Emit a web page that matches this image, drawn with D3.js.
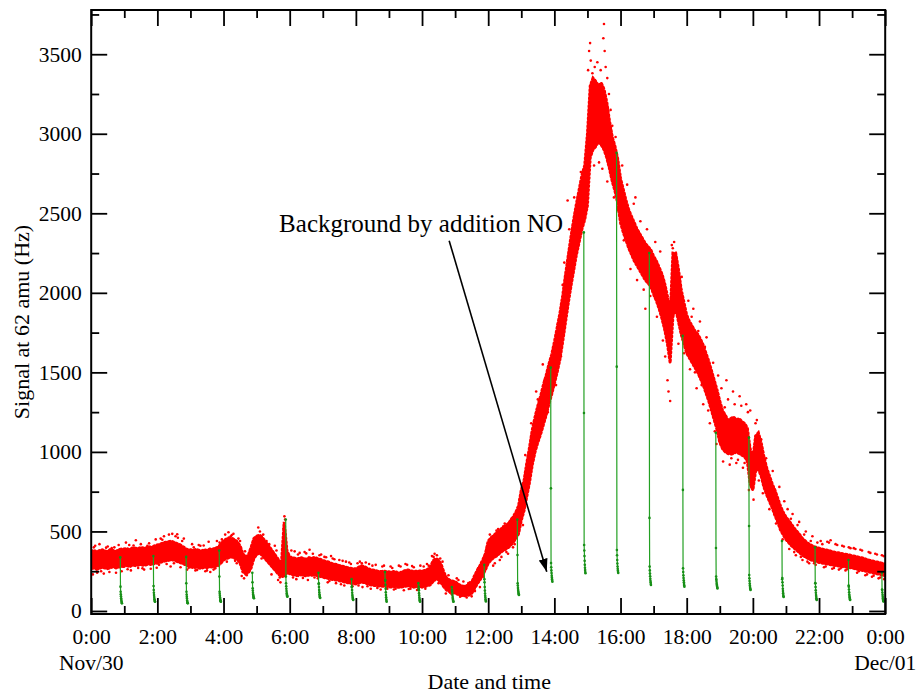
<!DOCTYPE html>
<html>
<head>
<meta charset="utf-8">
<script src="https://cdn.jsdelivr.net/npm/d3@7/dist/d3.min.js"></script>
<style>
  body { margin: 0; background: #fff; }
  svg text { font-family: "Liberation Serif", "Times New Roman", serif; fill: #000; }
</style>
</head>
<body>
<div id="chart"></div>
<script>
// signal at 62 amu, Nov/30 0:00 -> Dec/01 0:00, time in hours
// dense part of the red cloud, one low/high pair every 5 minutes
const bandStepMin = 5;
const bandLow = [
  265, 270, 262, 268, 275, 270, 266, 272, 278, 270, 275, 280,
  280, 285, 278, 290, 285, 288, 292, 286, 290, 295, 290, 300,
  300, 305, 310, 315, 318, 322, 320, 312, 305, 300, 292, 285,
  278, 272, 275, 270, 268, 275, 272, 278, 275, 280, 285, 300,
  320, 330, 335, 340, 332, 325, 300, 250, 232, 240, 270, 330,
  355, 365, 350, 330, 310, 290, 270, 250, 230, 215, 220, 240,
  235, 228, 225, 222, 228, 225, 220, 226, 224, 228, 222, 218,
  212, 208, 205, 200, 196, 194, 190, 186, 182, 178, 175, 172,
  170, 176, 182, 178, 172, 165, 162, 160, 158, 156, 155, 154,
  152, 150, 155, 150, 148, 152, 156, 158, 154, 150, 152, 155,
  150, 154, 158, 165, 185, 200, 195, 175, 150, 130, 122, 118,
  112, 105, 98, 95, 96, 100, 110, 140, 170, 195, 225, 260,
  300, 320, 335, 345, 360, 375, 385, 395, 410, 430, 455, 485,
  570, 630, 720, 810, 920, 1000, 1060, 1110, 1170, 1230, 1300, 1360,
  1430, 1500, 1580, 1690, 1810, 1930, 2040, 2140, 2240, 2320, 2400, 2460,
  2550, 2850, 2900, 2920, 2950, 2930, 2900, 2850, 2780, 2700, 2640, 2560,
  2440, 2380, 2330, 2280, 2240, 2200, 2170, 2140, 2110, 2080, 2060, 2040,
  1990, 1950, 1900, 1840, 1770, 1680, 1560, 1850, 1900, 1820, 1740, 1680,
  1620, 1590, 1560, 1530, 1500, 1460, 1420, 1370, 1320, 1260, 1200, 1140,
  1060, 1020, 1000, 990, 985, 990, 1000, 990, 980, 970, 940, 800,
  760, 880, 890, 850, 780, 730, 690, 650, 600, 560, 510, 480,
  450, 430, 410, 395, 380, 365, 350, 340, 330, 322, 315, 310,
  305, 302, 298, 295, 292, 288, 285, 283, 280, 278, 276, 274,
  270, 266, 262, 258, 254, 250, 246, 242, 238, 234, 230, 226,
  220
];
const bandHigh = [
  375, 382, 370, 380, 385, 378, 372, 388, 380, 375, 385, 390,
  390, 392, 385, 398, 395, 392, 400, 396, 398, 405, 398, 410,
  415, 420, 428, 432, 435, 440, 432, 425, 418, 408, 395, 385,
  385, 380, 388, 382, 378, 385, 380, 390, 388, 395, 400, 420,
  440, 452, 460, 458, 448, 435, 410, 360, 340, 350, 400, 455,
  470, 478, 465, 440, 418, 395, 370, 345, 320, 300, 560, 380,
  340, 335, 332, 328, 336, 330, 326, 335, 330, 338, 330, 325,
  318, 312, 308, 300, 296, 292, 286, 282, 278, 272, 268, 266,
  265, 275, 285, 280, 270, 262, 258, 255, 250, 248, 250, 248,
  246, 244, 250, 242, 240, 248, 255, 258, 252, 248, 250, 252,
  250, 255, 262, 275, 315, 330, 320, 290, 240, 205, 195, 188,
  185, 170, 160, 155, 158, 165, 180, 220, 255, 285, 320, 360,
  440, 460, 475, 490, 505, 520, 535, 545, 565, 590, 620, 660,
  760, 820, 930, 1030, 1140, 1220, 1290, 1350, 1420, 1480, 1550, 1610,
  1690, 1780, 1870, 1980, 2110, 2230, 2350, 2460, 2560, 2650, 2740, 2800,
  3000, 3300, 3350, 3330, 3300, 3320, 3280, 3200, 3080, 2980, 2920, 2840,
  2720, 2650, 2580, 2520, 2480, 2440, 2400, 2370, 2340, 2310, 2290, 2270,
  2230, 2200, 2160, 2120, 2060, 1980, 1850, 2250, 2250, 2150, 2020, 1940,
  1860, 1820, 1790, 1760, 1740, 1710, 1670, 1620, 1570, 1510, 1450, 1390,
  1320, 1260, 1230, 1200, 1210, 1220, 1200, 1210, 1190, 1180, 1150, 1020,
  960, 1100, 1120, 1060, 970, 900, 850, 800, 760, 710, 660, 620,
  590, 570, 545, 520, 500, 480, 455, 440, 425, 415, 405, 400,
  395, 390, 385, 382, 378, 372, 368, 366, 362, 358, 355, 352,
  348, 344, 340, 336, 332, 326, 320, 316, 312, 308, 304, 300,
  295
];

// scattered single readings outside the dense part [hour, Hz]
const outliers = [
  [0.05,230],[0.12,410],[0.25,420],[0.38,235],[0.5,405],[0.62,395],[0.75,240],[0.83,415],[0.3,250],[0.7,400],
  [0.08,400],[0.18,240],[0.45,398],[0.55,245],[0.92,250],
  [1.05,430],[1.2,255],[1.35,445],[1.5,420],[1.6,260],[1.7,410],[1.8,265],[1.95,450],[1.42,270],[1.15,415],
  [1.1,262],[1.28,412],[1.55,268],[1.75,425],[1.98,272],
  [2.1,455],[2.2,470],[2.35,480],[2.45,485],[2.55,470],[2.4,280],[2.7,275],[2.8,455],[2.62,460],[2.9,260],
  [2.05,290],[2.15,448],[2.28,295],[2.5,300],[2.6,482],[2.75,440],[2.95,272],
  [3.05,420],[3.15,255],[3.3,410],[3.45,250],[3.55,435],[3.7,260],[3.8,440],[3.6,245],[3.25,415],[3.95,450],
  [3.1,400],[3.2,258],[3.4,412],[3.5,255],[3.75,268],[3.88,430],
  [4.05,480],[4.15,495],[4.22,470],[4.3,485],[4.4,300],[4.55,220],[4.62,205],[4.5,440],[4.7,225],[4.8,380],
  [4.1,310],[4.25,478],[4.35,315],[4.45,455],[4.58,245],[4.65,375],[4.9,440],
  [5.05,525],[5.1,500],[5.15,330],[5.3,440],[5.45,230],[5.55,410],[5.65,195],[5.72,180],[5.78,360],[5.84,595],[5.86,575],[5.82,520],
  [5.2,480],[5.25,345],[5.38,420],[5.5,270],[5.6,380],[5.7,210],
  [6.05,380],[6.2,200],[6.3,365],[6.45,370],[6.55,195],[6.7,360],[6.85,205],[6.95,355],[6.15,375],[6.6,385],
  [6.1,210],[6.25,355],[6.4,208],[6.5,362],[6.75,210],[6.9,350],
  [7.05,340],[7.15,180],[7.3,330],[7.4,175],[7.5,320],[7.65,160],[7.8,305],[7.9,155],[7.25,345],[7.7,310],
  [7.1,338],[7.2,188],[7.35,325],[7.55,168],[7.6,315],[7.85,295],
  [8.05,300],[8.12,310],[8.2,150],[8.3,305],[8.45,140],[8.6,290],[8.75,135],[8.85,285],[8.95,140],[8.4,295],
  [8.08,160],[8.18,300],[8.35,155],[8.5,285],[8.65,145],[8.8,280],
  [9.05,280],[9.15,135],[9.3,285],[9.45,130],[9.55,290],[9.65,140],[9.75,275],[9.85,132],[9.95,285],[9.5,295],
  [9.1,270],[9.2,140],[9.35,280],[9.6,138],[9.7,282],[9.9,140],
  [10.05,280],[10.15,295],[10.3,345],[10.38,360],[10.45,350],[10.5,175],[10.62,310],[10.72,110],[10.8,225],[10.9,105],
  [10.1,140],[10.2,285],[10.25,180],[10.35,340],[10.55,330],[10.65,170],[10.85,115],
  [11.05,205],[11.15,90],[11.25,185],[11.35,85],[11.45,180],[11.6,125],[11.7,270],[11.8,300],[11.88,340],[11.95,390],
  [11.1,195],[11.2,95],[11.4,175],[11.5,92],[11.65,240],[11.75,150],[11.85,215],
  [12.05,480],[12.15,285],[12.25,505],[12.35,320],[12.5,550],[12.6,360],[12.7,580],[12.8,420],[12.9,650],[12.95,700],
  [12.1,460],[12.2,300],[12.3,515],[12.4,340],[12.45,530],[12.55,370],[12.65,560],[12.75,400],[12.85,620],
  [13.05,540],[13.12,980],[13.22,850],[13.3,1180],[13.4,1040],[13.5,1330],[13.6,1150],[13.7,1450],[13.8,1250],[13.9,1560],[13.65,1550],[13.45,1380],
  [14.05,1420],[14.1,1800],[14.2,1600],[14.3,2190],[14.38,1880],[14.45,2400],[14.55,2160],[14.6,2600],[14.7,2300],[14.8,2760],[14.85,2420],[14.95,2820],[14.4,2580],[14.25,2050],
  [15.02,3400],[15.05,3520],[15.08,3570],[15.1,3460],[15.15,3380],[15.22,3420],[15.3,3450],[15.4,3400],[15.48,3600],[15.5,3690],[15.52,3520],[15.55,3420],[15.6,3350],
  [15.65,3250],[15.7,3150],[15.75,3050],[15.85,2980],[15.2,2800],[15.35,2820],[15.45,2780],[15.6,2700],[15.8,2600],[15.9,2520],[15.12,3250],[15.28,3200],[15.42,3180],
  [16.05,2800],[16.1,2330],[16.2,2680],[16.3,2150],[16.4,2560],[16.5,2080],[16.6,2450],[16.7,2020],[16.8,2400],[16.9,1980],[16.45,2600],[16.75,1900],
  [17.05,2320],[17.1,1850],[17.2,2260],[17.28,1700],[17.35,1600],[17.42,1450],[17.45,1380],[17.5,1320],[17.55,2300],[17.58,2280],[17.62,2320],[17.68,2200],[17.75,1680],[17.85,2100],[17.92,1620],
  [18.05,1950],[18.1,1520],[18.2,1900],[18.3,1400],[18.4,1820],[18.5,1300],[18.6,1720],[18.7,1180],[18.8,1560],[18.9,1050],[18.95,1480],
  [18.15,1850],[18.25,1500],[18.35,1760],[18.45,1420],[18.55,1660],[18.65,1260],[18.75,1480],[18.85,1130],
  [19.05,1400],[19.1,940],[19.2,1450],[19.3,920],[19.4,1380],[19.5,930],[19.6,1350],[19.7,900],[19.8,1300],[19.88,760],[19.92,1260],[19.25,1330],
  [19.15,1280],[19.35,960],[19.45,1300],[19.55,950],[19.65,1290],[19.75,930],[19.85,1250],[19.95,780],
  [20.02,700],[20.08,1180],[20.12,1200],[20.18,820],[20.25,1080],[20.3,740],[20.4,960],[20.5,640],[20.6,880],[20.7,550],[20.8,780],[20.9,450],[20.95,690],
  [21.05,640],[21.1,390],[21.2,610],[21.3,350],[21.4,560],[21.5,320],[21.6,500],[21.7,300],[21.8,470],[21.9,290],
  [21.15,580],[21.25,370],[21.35,540],[21.45,340],[21.55,480],[21.65,310],[21.75,440],[21.85,300],[21.95,430],
  [22.05,440],[22.15,275],[22.3,430],[22.4,265],[22.5,420],[22.6,260],[22.7,410],[22.8,255],[22.9,400],[22.35,445],
  [22.1,420],[22.2,280],[22.25,435],[22.45,270],[22.55,415],[22.65,268],[22.75,405],[22.85,262],[22.95,395],
  [23.05,395],[23.15,240],[23.3,380],[23.4,225],[23.5,370],[23.6,215],[23.7,360],[23.8,205],[23.9,350],[23.97,200],
  [23.1,390],[23.2,250],[23.25,385],[23.45,230],[23.55,365],[23.65,222],[23.75,355],[23.85,210],[23.95,345]
];

// hourly background checks with NO addition (green)
const bgStart = [0.88, 1.88, 2.87, 3.87, 4.87, 5.88, 6.87, 7.87, 8.88, 9.89, 10.9, 11.88,
                 12.88, 13.89, 14.89, 15.88, 16.87, 17.88, 18.88, 19.88, 20.88, 21.88, 22.89, 23.9];
const bgTop = [337, 345, 340, 380, 240, 575, 240, 200, 245, 175, 150, 290,
               575, 1530, 2380, 2880, 2250, 1730, 1120, 1090, 440, 400, 320, 240];
const bgMid = [153, 157, 174, 216, 180, 216, 170, 150, 190, 140, 125, 200,
               352, 771, 1245, 1536, 585, 761, 396, 534, 200, 175, 160, 135];
const bgLevels = [
  [121, 105, 92, 80, 70, 62, 56, 50, 48],
  [132, 115, 100, 88, 76, 70, 64, 60, 58],
  [121, 104, 90, 78, 66, 58, 52, 50, 48],
  [121, 108, 95, 84, 75, 68, 63, 60, 58],
  [143, 128, 115, 104, 96, 90, 85, 82, 80],
  [174, 155, 140, 125, 112, 104, 97, 92, 90],
  [174, 150, 132, 118, 105, 96, 90, 85, 82],
  [153, 132, 115, 100, 90, 82, 76, 72, 69],
  [195, 165, 140, 118, 100, 86, 74, 64, 58],
  [153, 130, 112, 98, 85, 75, 68, 62, 58],
  [132, 115, 100, 88, 78, 70, 64, 60, 58],
  [180, 150, 128, 110, 95, 84, 74, 66, 60],
  [174, 160, 145, 132, 122, 114, 108, 104, 101],
  [302, 275, 255, 238, 222, 210, 200, 190, 184],
  [415, 380, 345, 315, 290, 272, 258, 245, 237],
  [383, 350, 320, 298, 280, 265, 254, 245, 239],
  [279, 255, 235, 218, 202, 190, 180, 170, 163],
  [268, 245, 225, 208, 193, 180, 170, 160, 153],
  [216, 200, 188, 176, 166, 158, 152, 146, 142],
  [226, 205, 188, 172, 160, 150, 142, 136, 132],
  [207, 180, 160, 140, 125, 112, 100, 93, 88],
  [174, 150, 130, 115, 100, 90, 80, 74, 69],
  [153, 135, 118, 104, 94, 86, 78, 72, 69],
  [132, 116, 102, 90, 80, 72, 66, 62, 60]
];
// minutes after the start of a check for each reading (top, mid, levels)
const bgSampleMin = [0, 0.3, 0.6, 0.9, 1.2, 1.5, 1.8, 2.1, 2.4, 2.7, 3.0];

const xMajor = [0, 2, 4, 6, 8, 10, 12, 14, 16, 18, 20, 22, 24];
const xMinor = [1, 3, 5, 7, 9, 11, 13, 15, 17, 19, 21, 23];
const xLabels = ["0:00", "2:00", "4:00", "6:00", "8:00", "10:00", "12:00",
                 "14:00", "16:00", "18:00", "20:00", "22:00", "0:00"];
const dateTicks = [0, 24];
const dateLabels = ["Nov/30", "Dec/01"];
const yMajor = [0, 500, 1000, 1500, 2000, 2500, 3000, 3500];
const yMinor = [250, 750, 1250, 1750, 2250, 2750, 3250, 3750];

const W = 917, H = 694;
const margin = { top: 10, right: 31.8, bottom: 80, left: 91.2 };
const width = W - margin.left - margin.right;
const height = H - margin.top - margin.bottom;

const svg = d3.select("#chart").append("svg")
  .attr("width", W).attr("height", H);
const g = svg.append("g")
  .attr("transform", `translate(${margin.left},${margin.top})`);

const x = d3.scaleLinear().domain([0, 24]).range([0, width]);
const y = d3.scaleLinear().domain([-19, 3778]).range([height, 0]);

g.append("clipPath").attr("id", "plot-clip")
  .append("rect").attr("width", width).attr("height", height);
const plot = g.append("g").attr("clip-path", "url(#plot-clip)");

// red cloud
const band = bandLow.map((lo, i) => ({ t: i * bandStepMin / 60, lo, hi: bandHigh[i] }));
const area = d3.area()
  .x(d => x(d.t))
  .y0(d => y(d.lo))
  .y1(d => y(d.hi));
plot.append("path")
  .datum(band)
  .attr("d", area)
  .attr("fill", "#ff0000")
  .attr("stroke", "#ff0000")
  .attr("stroke-width", 3)
  .attr("stroke-dasharray", "1.4 2.6")
  .attr("stroke-linecap", "round");

plot.selectAll(".dot")
  .data(outliers)
  .enter().append("circle")
  .attr("class", "dot")
  .attr("cx", d => x(d[0]))
  .attr("cy", d => y(d[1]))
  .attr("r", 1.3)
  .attr("fill", "#ff0000");

// green background checks
const checks = bgStart.map((t0, k) => {
  const vals = [bgTop[k], bgMid[k]].concat(bgLevels[k]);
  return vals.map((v, j) => ({ t: t0 + bgSampleMin[j] / 60, v }));
});
const bgLine = d3.line().x(d => x(d.t)).y(d => y(d.v));
const checkG = plot.selectAll(".check")
  .data(checks)
  .enter().append("g")
  .attr("class", "check");
checkG.append("path")
  .attr("d", bgLine)
  .attr("fill", "none")
  .attr("stroke", "#23a023")
  .attr("stroke-width", 1.2);
checkG.selectAll("circle")
  .data(d => d)
  .enter().append("circle")
  .attr("cx", d => x(d.t))
  .attr("cy", d => y(d.v))
  .attr("r", 1.3)
  .attr("fill", "#178f17");

// axes, ticks pointing inward on all four sides
function styleAxis(sel) {
  sel.select(".domain").remove();
  sel.selectAll("line").attr("stroke", "#000").attr("stroke-width", 1.8);
  sel.selectAll("text")
    .style("font-family", '"Liberation Serif", "Times New Roman", serif')
    .style("font-size", "21.5px")
    .attr("fill", "#000");
}

g.append("g").attr("transform", `translate(0,${height})`)
  .call(d3.axisBottom(x).tickValues(xMajor).tickSize(-16).tickPadding(14.5)
    .tickFormat((d, i) => xLabels[i]))
  .call(styleAxis);
g.append("g").attr("transform", `translate(0,${height})`)
  .call(d3.axisBottom(x).tickValues(xMinor).tickSize(-8).tickFormat(""))
  .call(styleAxis);
g.append("g")
  .call(d3.axisTop(x).tickValues(xMajor).tickSize(-16).tickFormat(""))
  .call(styleAxis);
g.append("g")
  .call(d3.axisTop(x).tickValues(xMinor).tickSize(-8).tickFormat(""))
  .call(styleAxis);

g.append("g")
  .call(d3.axisLeft(y).tickValues(yMajor).tickSize(-16).tickPadding(9.5)
    .tickFormat(d3.format("d")))
  .call(styleAxis);
g.append("g")
  .call(d3.axisLeft(y).tickValues(yMinor).tickSize(-8).tickFormat(""))
  .call(styleAxis);
g.append("g").attr("transform", `translate(${width},0)`)
  .call(d3.axisRight(y).tickValues(yMajor).tickSize(-16).tickFormat(""))
  .call(styleAxis);
g.append("g").attr("transform", `translate(${width},0)`)
  .call(d3.axisRight(y).tickValues(yMinor).tickSize(-8).tickFormat(""))
  .call(styleAxis);

// frame
g.append("rect")
  .attr("width", width).attr("height", height)
  .attr("fill", "none")
  .attr("stroke", "#000")
  .attr("stroke-width", 2);

// date line under the first and last time label
g.selectAll(".date")
  .data(dateTicks)
  .enter().append("text")
  .attr("class", "date")
  .attr("x", d => x(d))
  .attr("y", height + 55.5)
  .attr("text-anchor", "middle")
  .style("font-size", "21.5px")
  .text((d, i) => dateLabels[i]);

// axis titles
g.append("text")
  .attr("x", width / 2 + 1)
  .attr("y", height + 75)
  .attr("text-anchor", "middle")
  .style("font-size", "22px")
  .text("Date and time");

g.append("text")
  .attr("transform", `translate(${-62},${height / 2 + 10}) rotate(-90)`)
  .attr("text-anchor", "middle")
  .style("font-size", "22px")
  .text("Signal at 62 amu (Hz)");

// annotation
svg.append("defs").append("marker")
  .attr("id", "arrow")
  .attr("markerUnits", "userSpaceOnUse")
  .attr("markerWidth", 14).attr("markerHeight", 10)
  .attr("refX", 13).attr("refY", 4.5)
  .attr("orient", "auto")
  .append("path")
  .attr("d", "M0,0 L13,4.5 L0,9 Z")
  .attr("fill", "#000");

g.append("line")
  .attr("x1", x(10.82)).attr("y1", y(2328))
  .attr("x2", x(13.77)).attr("y2", y(247))
  .attr("stroke", "#000")
  .attr("stroke-width", 1.6)
  .attr("marker-end", "url(#arrow)");

g.append("text")
  .attr("x", x(5.68))
  .attr("y", y(2385))
  .style("font-size", "25px")
  .text("Background by addition NO");
</script>
</body>
</html>
